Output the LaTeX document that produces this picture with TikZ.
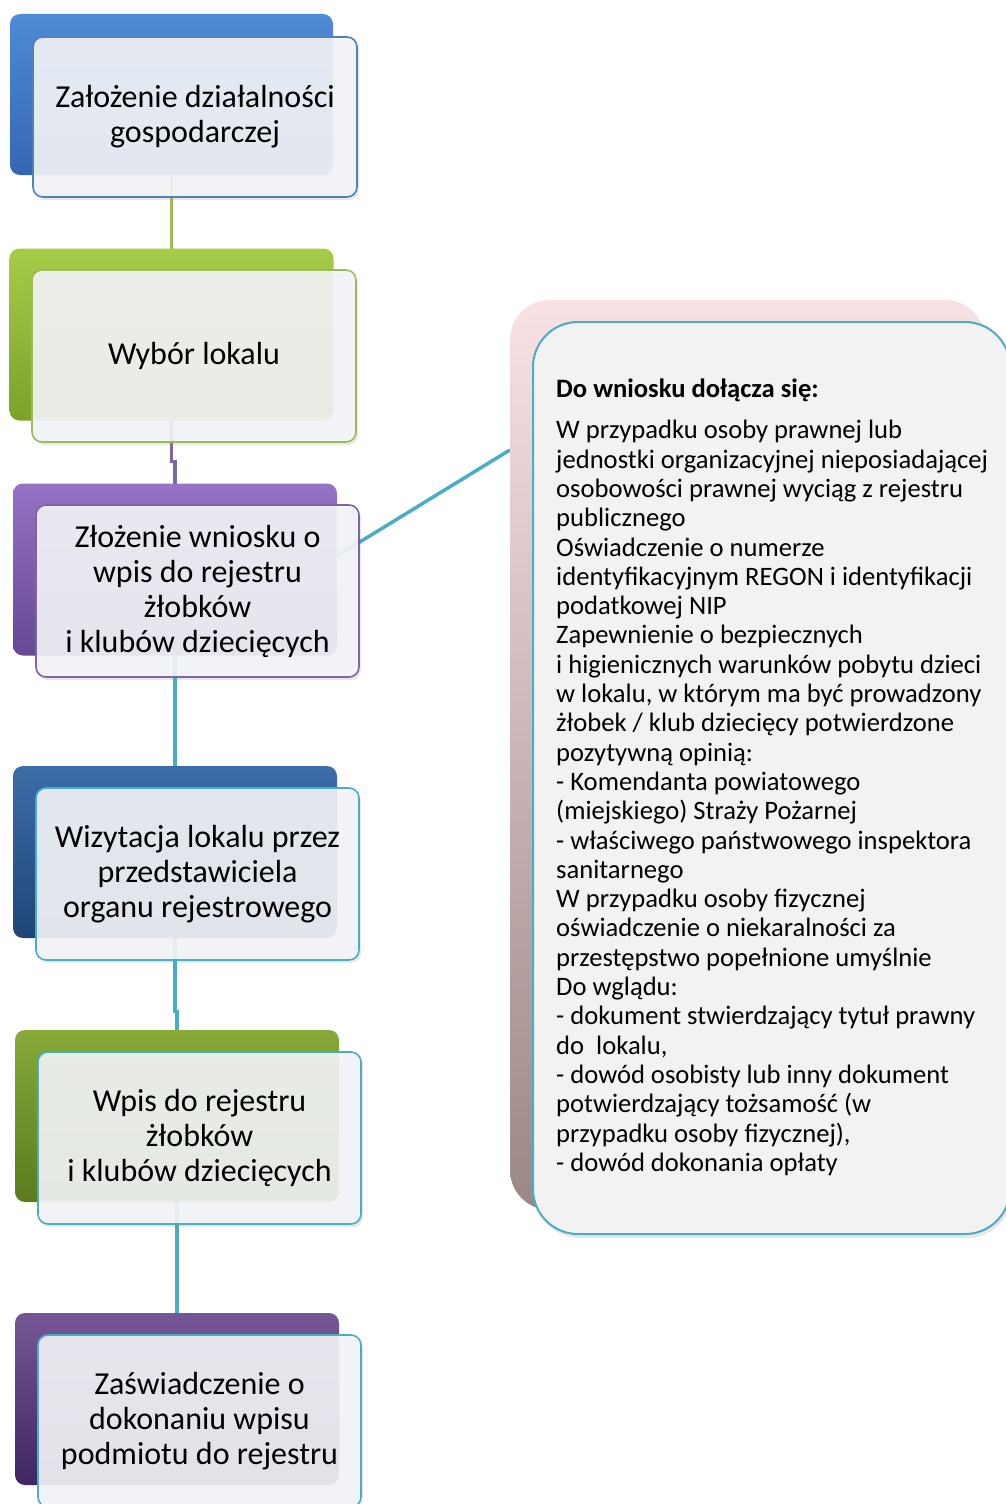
\documentclass[tikz,border=0pt]{standalone}
\usepackage{fontspec}
\setmainfont{Carlito}
\usetikzlibrary{calc,shadows}
\definecolor{bdBlue}{HTML}{4F81BD}
\definecolor{bdGreen}{HTML}{9BBB59}
\definecolor{bdPurple}{HTML}{8064A2}
\definecolor{bdTeal}{HTML}{4BACC6}
\definecolor{frontFill}{HTML}{F4F5F8}
\definecolor{bigFill}{HTML}{F2F2F3}
\definecolor{bigTop}{HTML}{F8E2E4}
\definecolor{bigBot}{HTML}{9C8787}
\definecolor{oneT}{HTML}{4F8AD6}\definecolor{oneB}{HTML}{3566B3}
\definecolor{twoT}{HTML}{A6CC48}\definecolor{twoB}{HTML}{7AA22A}
\definecolor{thrT}{HTML}{9673C4}\definecolor{thrB}{HTML}{664894}
\definecolor{fouT}{HTML}{3C6DA8}\definecolor{fouB}{HTML}{1F4577}
\definecolor{fivT}{HTML}{86A937}\definecolor{fivB}{HTML}{5B7B1E}
\definecolor{sixT}{HTML}{765795}\definecolor{sixB}{HTML}{3E2760}
\pgfdeclarelayer{bg}
\pgfsetlayers{bg,main}
\tikzset{
  backbox/.style={rectangle, rounded corners=10pt, inner sep=0pt, outer sep=0pt, minimum width=324pt, minimum height=172pt},
  frontbox/.style={rectangle, rounded corners=10pt, inner sep=0pt, outer sep=0pt, minimum width=323pt, minimum height=172pt,
    fill=frontFill, fill opacity=0.9, text opacity=1, line width=1.6pt, align=center,
    font=\fontsize{32}{35}\selectfont,
    drop shadow={opacity=0.18, shadow xshift=2pt, shadow yshift=-3pt}},
  conn/.style={line width=3.5pt},
}
\begin{document}
\begin{tikzpicture}[x=1pt,y=-1pt]
\useasboundingbox (0,0) rectangle (1006,1504);
% big back box
\node[rectangle, rounded corners=40pt, minimum width=475pt, minimum height=910pt, inner sep=0pt,
  top color=bigTop, bottom color=bigBot] (bb) at (747.5,755) {};
% back boxes (coloured)
\node[backbox, minimum width=323pt, minimum height=161pt, top color=oneT, bottom color=oneB] (b1) at (171.5,94.5) {};
\node[backbox, top color=twoT, bottom color=twoB] (b2) at (171.5,334.5) {};
\node[backbox, top color=thrT, bottom color=thrB] (b3) at (175,569.5) {};
\node[backbox, top color=fouT, bottom color=fouB] (b4) at (175,852) {};
\node[backbox, top color=fivT, bottom color=fivB] (b5) at (177,1116) {};
\node[backbox, top color=sixT, bottom color=sixB] (b6) at (177,1399) {};
% connectors
\begin{pgfonlayer}{bg}
\coordinate (c3) at (337,556);
\draw[conn, bdTeal] (c3) -- ($(bb.north west)!0.165!(bb.south west)$);
\draw[conn, bdGreen] (b1.south) -- (b2.north);
\draw[conn, bdPurple] (b2.south) |- ($(b2.south)!0.65!(b3.north)$) -| (b3.north);
\draw[conn, bdTeal] (b3.south) -- (b4.north);
\draw[conn, bdTeal] (b4.south) |- ($(b4.south)!0.8!(b5.north)$) -| (b5.north);
\draw[conn, bdTeal] (b5.south) -- (b6.north);
\end{pgfonlayer}
% front boxes
\node[frontbox, draw=bdBlue, minimum width=324pt, minimum height=160pt] (f1) at (195,117) {Założenie działalności\\gospodarczej};
\node[frontbox, draw=bdGreen, minimum width=324pt] (f2) at (194,356) {Wybór lokalu};
\node[frontbox, draw=bdPurple] (f3) at (197.5,591) {Złożenie wniosku o\\wpis do rejestru\\żłobków\\i klubów dziecięcych};
\node[frontbox, draw=bdTeal] (f4) at (197.5,874) {Wizytacja lokalu przez\\przedstawiciela\\organu rejestrowego};
\node[frontbox, draw=bdTeal] (f5) at (199.5,1138) {Wpis do rejestru\\żłobków\\i klubów dziecięcych};
\node[frontbox, draw=bdTeal] (f6) at (199.5,1421) {Zaświadczenie o\\dokonaniu wpisu\\podmiotu do rejestru};
% big front box
\node[rectangle, rounded corners=45pt, minimum width=477pt, minimum height=912pt, inner sep=0pt,
  fill=bigFill, draw=bdTeal, line width=2pt,
  drop shadow={opacity=0.2, shadow xshift=2pt, shadow yshift=-4pt}] (bf) at (771.5,778) {};
\node[anchor=north west, inner sep=0pt, align=left, font=\fontsize{26.6}{29.3}\selectfont] (txt) at (556,379)
{\textbf{Do wniosku dołącza się:}\\[11.7pt]
W przypadku osoby prawnej lub\\
jednostki organizacyjnej nieposiadającej\\
osobowości prawnej wyciąg z rejestru\\
publicznego\\
Oświadczenie o numerze\\
identyfikacyjnym REGON i identyfikacji\\
podatkowej NIP\\
Zapewnienie o bezpiecznych\\
i higienicznych warunków pobytu dzieci\\
w lokalu, w którym ma być prowadzony\\
żłobek / klub dziecięcy potwierdzone\\
pozytywną opinią:\\
- Komendanta powiatowego\\
(miejskiego) Straży Pożarnej\\
- właściwego państwowego inspektora\\
sanitarnego\\
W przypadku osoby fizycznej\\
oświadczenie o niekaralności za\\
przestępstwo popełnione umyślnie\\
Do wglądu:\\
- dokument stwierdzający tytuł prawny\\
do\ \ lokalu,\\
- dowód osobisty lub inny dokument\\
potwierdzający tożsamość (w\\
przypadku osoby fizycznej),\\
- dowód dokonania opłaty};
\end{tikzpicture}
\end{document}
